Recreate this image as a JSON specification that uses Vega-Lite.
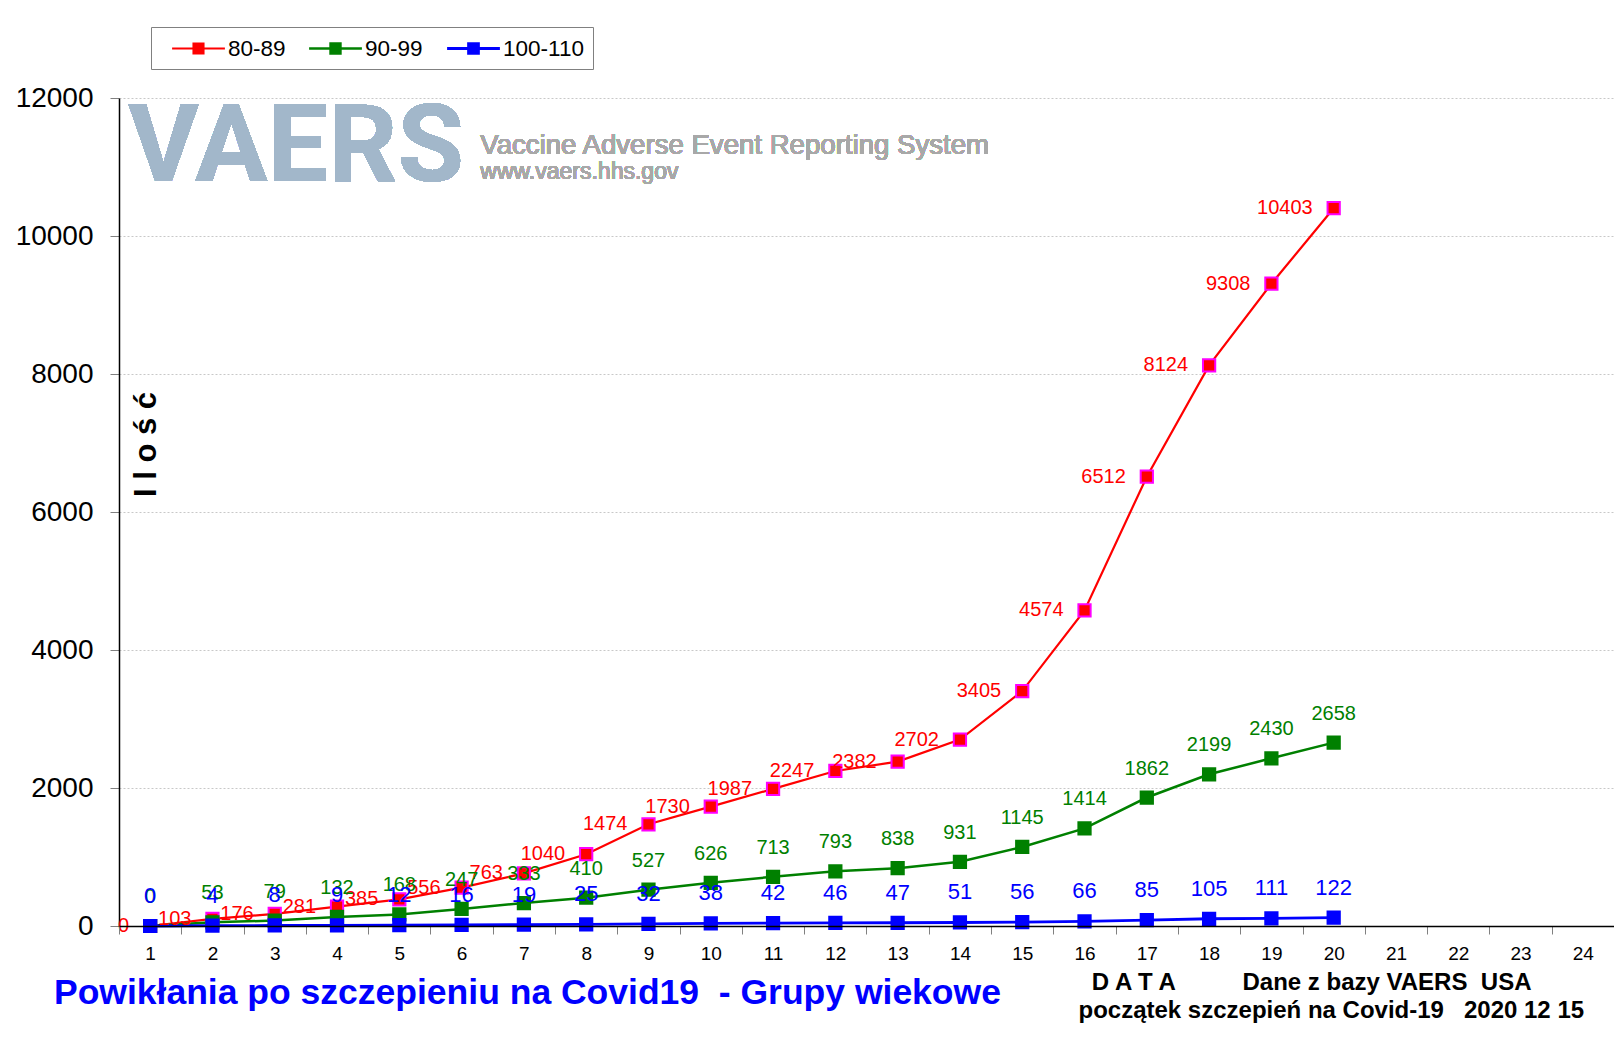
{
  "$schema": "https://vega.github.io/schema/vega-lite/v6.json",
  "width": 1495,
  "height": 828,
  "autosize": {"type": "none"},
  "padding": {"left": 119, "top": 98, "right": 0, "bottom": 115},
  "background": "#ffffff",
  "config": {
    "view": {"stroke": null},
    "font": "Liberation Sans",
    "text": {"font": "Liberation Sans"}
  },
  "title": {
    "text": "Powikłania po szczepieniu na Covid19\u00a0\u00a0- Grupy wiekowe",
    "orient": "bottom",
    "anchor": "start",
    "frame": "group",
    "font": "Liberation Sans",
    "fontSize": 35.5,
    "fontWeight": "bold",
    "color": "#0000ff",
    "offset": 0,
    "dx": -65,
    "dy": -46
  },
  "data": {
    "values": [
      {"x": 1, "g": "80-89", "v": 0}, {"x": 2, "g": "80-89", "v": 103}, {"x": 3, "g": "80-89", "v": 176}, {"x": 4, "g": "80-89", "v": 281},
      {"x": 5, "g": "80-89", "v": 385}, {"x": 6, "g": "80-89", "v": 556}, {"x": 7, "g": "80-89", "v": 763}, {"x": 8, "g": "80-89", "v": 1040},
      {"x": 9, "g": "80-89", "v": 1474}, {"x": 10, "g": "80-89", "v": 1730}, {"x": 11, "g": "80-89", "v": 1987}, {"x": 12, "g": "80-89", "v": 2247},
      {"x": 13, "g": "80-89", "v": 2382}, {"x": 14, "g": "80-89", "v": 2702}, {"x": 15, "g": "80-89", "v": 3405}, {"x": 16, "g": "80-89", "v": 4574},
      {"x": 17, "g": "80-89", "v": 6512}, {"x": 18, "g": "80-89", "v": 8124}, {"x": 19, "g": "80-89", "v": 9308}, {"x": 20, "g": "80-89", "v": 10403},
      {"x": 1, "g": "90-99", "v": 0}, {"x": 2, "g": "90-99", "v": 53}, {"x": 3, "g": "90-99", "v": 79}, {"x": 4, "g": "90-99", "v": 132},
      {"x": 5, "g": "90-99", "v": 168}, {"x": 6, "g": "90-99", "v": 247}, {"x": 7, "g": "90-99", "v": 333}, {"x": 8, "g": "90-99", "v": 410},
      {"x": 9, "g": "90-99", "v": 527}, {"x": 10, "g": "90-99", "v": 626}, {"x": 11, "g": "90-99", "v": 713}, {"x": 12, "g": "90-99", "v": 793},
      {"x": 13, "g": "90-99", "v": 838}, {"x": 14, "g": "90-99", "v": 931}, {"x": 15, "g": "90-99", "v": 1145}, {"x": 16, "g": "90-99", "v": 1414},
      {"x": 17, "g": "90-99", "v": 1862}, {"x": 18, "g": "90-99", "v": 2199}, {"x": 19, "g": "90-99", "v": 2430}, {"x": 20, "g": "90-99", "v": 2658},
      {"x": 1, "g": "100-110", "v": 0}, {"x": 2, "g": "100-110", "v": 4}, {"x": 3, "g": "100-110", "v": 8}, {"x": 4, "g": "100-110", "v": 9},
      {"x": 5, "g": "100-110", "v": 12}, {"x": 6, "g": "100-110", "v": 16}, {"x": 7, "g": "100-110", "v": 19}, {"x": 8, "g": "100-110", "v": 25},
      {"x": 9, "g": "100-110", "v": 32}, {"x": 10, "g": "100-110", "v": 38}, {"x": 11, "g": "100-110", "v": 42}, {"x": 12, "g": "100-110", "v": 46},
      {"x": 13, "g": "100-110", "v": 47}, {"x": 14, "g": "100-110", "v": 51}, {"x": 15, "g": "100-110", "v": 56}, {"x": 16, "g": "100-110", "v": 66},
      {"x": 17, "g": "100-110", "v": 85}, {"x": 18, "g": "100-110", "v": 105}, {"x": 19, "g": "100-110", "v": 111}, {"x": 20, "g": "100-110", "v": 122}
    ]
  },
  "encoding": {
    "x": {
      "field": "x",
      "type": "ordinal",
      "bandPosition": 0.5,
      "scale": {"type": "band", "domain": [1,2,3,4,5,6,7,8,9,10,11,12,13,14,15,16,17,18,19,20,21,22,23,24], "paddingInner": 0, "paddingOuter": 0},
      "axis": {
        "tickBand": "extent",
        "labelAngle": 0,
        "labelFont": "Liberation Sans",
        "labelFontSize": 19,
        "labelColor": "#000000",
        "labelPadding": 10,
        "tickColor": "#808080",
        "tickSize": 8,
        "domainColor": "#000000",
        "domainWidth": 1.5,
        "grid": false,
        "zindex": 1,
        "title": ["\u200b\u00a0\u00a0D A T A\u00a0\u00a0\u00a0\u00a0\u00a0\u00a0\u00a0\u00a0\u00a0\u00a0Dane z bazy VAERS\u00a0\u00a0USA", "początek szczepień na Covid-19\u00a0\u00a0\u00a02020 12 15"],
        "titleFont": "Liberation Sans",
        "titleFontSize": 24,
        "titleFontWeight": "bold",
        "titleColor": "#000000",
        "titleAlign": "left",
        "titleAnchor": "start",
        "titleBaseline": "alphabetic",
        "titleLineHeight": 28,
        "titleX": 959,
        "titleY": 63
      }
    },
    "y": {
      "field": "v",
      "type": "quantitative",
      "scale": {"domain": [0, 12000], "nice": false, "zero": true},
      "axis": {
        "values": [0, 2000, 4000, 6000, 8000, 10000, 12000],
        "format": "d",
        "labelFont": "Liberation Sans",
        "labelFontSize": 28,
        "labelColor": "#000000",
        "labelPadding": 17,
        "tickColor": "#808080",
        "tickSize": 9,
        "domainColor": "#000000",
        "domainWidth": 1.5,
        "grid": true,
        "gridColor": "#c8c8c8",
        "gridDash": [2, 2],
        "gridWidth": 1,
        "zindex": 0,
        "title": "I l o ś ć",
        "titleFont": "Liberation Sans",
        "titleFontSize": 31,
        "titleFontWeight": "bold",
        "titleColor": "#000000",
        "titleAngle": -90,
        "titleAlign": "center",
        "titleBaseline": "middle",
        "titleX": 27,
        "titleY": 346
      }
    }
  },
  "layer": [
    {
      "mark": {"type": "text", "text": "VAERS", "font": "Roboto", "fontWeight": "bold", "fontSize": 108, "color": "#a2b7ca", "align": "left", "baseline": "alphabetic"},
      "encoding": {
        "x": {"datum": 1, "type": "ordinal", "bandPosition": 0.15},
        "y": {"datum": 10797, "type": "quantitative"}
      }
    },
    {
      "mark": {"type": "text", "text": "Vaccine Adverse Event Reporting System", "font": "Liberation Sans", "fontSize": 27.6, "color": "#a8a8a8", "align": "left", "baseline": "alphabetic"},
      "encoding": {
        "x": {"datum": 6, "type": "ordinal", "bandPosition": 0.8},
        "y": {"datum": 11194, "type": "quantitative"}
      }
    },
    {
      "mark": {"type": "text", "text": "www.vaers.hhs.gov", "font": "Liberation Sans", "fontSize": 23, "color": "#a8a8a8", "align": "left", "baseline": "alphabetic"},
      "encoding": {
        "x": {"datum": 6, "type": "ordinal", "bandPosition": 0.8},
        "y": {"datum": 10826, "type": "quantitative"}
      }
    },
    {
      "mark": {"type": "line"},
      "encoding": {
        "color": {
          "field": "g",
          "type": "nominal",
          "scale": {"domain": ["80-89", "90-99", "100-110"], "range": ["#ff0000", "#008000", "#0000ff"]},
          "legend": {
            "orient": "none",
            "legendX": 32,
            "legendY": -71,
            "direction": "horizontal",
            "title": "\u200b\u00a0",
            "titleOrient": "left",
            "titlePadding": 26,
            "titleFontSize": 10,
            "strokeColor": "#808080",
            "padding": 9,
            "symbolType": "M-2.4,0L2.4,0M-0.45,-0.45L0.45,-0.45L0.45,0.45L-0.45,0.45Z",
            "symbolSize": 484,
            "symbolStrokeWidth": 2,
            "labelFont": "Liberation Sans",
            "labelFontSize": 22.5,
            "labelColor": "#000000",
            "labelOffset": 17,
            "columnPadding": 18,
            "symbolOpacity": 1,
            "encode": {
              "symbols": {
                "update": {
                  "fill": {"scale": "color", "field": "value"},
                  "stroke": {"scale": "color", "field": "value"},
                  "strokeWidth": {"value": 2},
                  "opacity": {"value": 1}
                }
              }
            }
          }
        },
        "strokeWidth": {
          "field": "g",
          "type": "ordinal",
          "scale": {"domain": ["80-89", "90-99", "100-110"], "range": [2.2, 2.8, 3.2]},
          "legend": null
        }
      }
    },
    {
      "mark": {"type": "point", "shape": "square", "filled": true, "size": 150, "opacity": 1, "strokeWidth": 2},
      "encoding": {
        "color": {"field": "g", "type": "nominal"},
        "stroke": {
          "field": "g",
          "type": "nominal",
          "scale": {"domain": ["80-89", "90-99", "100-110"], "range": ["#ff00ff", "#008000", "#0000ff"]},
          "legend": null
        }
      }
    },
    {
      "transform": [{"filter": "datum.g === '80-89'"}],
      "mark": {"type": "text", "align": "right", "baseline": "middle", "dx": -21, "font": "Liberation Sans", "fontSize": 20, "color": "#ff0000"},
      "encoding": {"text": {"field": "v", "type": "quantitative", "format": "d"}}
    },
    {
      "transform": [{"filter": "datum.g === '90-99'"}],
      "mark": {"type": "text", "align": "center", "baseline": "middle", "dy": -29, "font": "Liberation Sans", "fontSize": 20, "color": "#008000"},
      "encoding": {"text": {"field": "v", "type": "quantitative", "format": "d"}}
    },
    {
      "transform": [{"filter": "datum.g === '100-110'"}],
      "mark": {"type": "text", "align": "center", "baseline": "middle", "dy": -30, "font": "Liberation Sans", "fontSize": 22, "color": "#0000ff"},
      "encoding": {"text": {"field": "v", "type": "quantitative", "format": "d"}}
    }
  ]
}
